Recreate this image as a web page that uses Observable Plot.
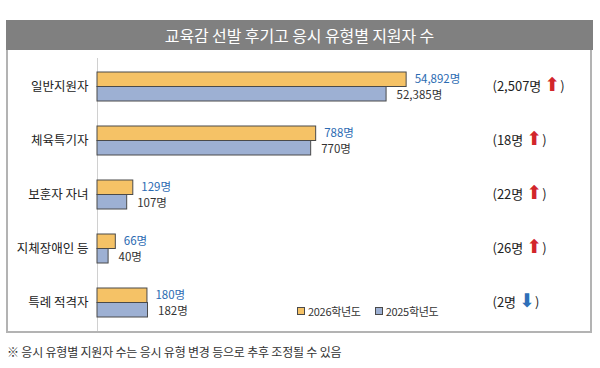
<!DOCTYPE html>
<html>
<head>
<meta charset="utf-8">
<script src="https://cdn.jsdelivr.net/npm/d3@7"></script>
<script src="https://cdn.jsdelivr.net/npm/@observablehq/plot@0.6"></script>
<style>
  html, body { margin: 0; padding: 0; background: #fff; }
  #wrap { position: relative; width: 600px; height: 368px; overflow: hidden;
          font-family: "Noto Sans CJK KR", "Noto Sans", sans-serif; }
  #title { position: absolute; left: 6px; top: 20px; width: 587px; height: 30px;
           background: #808080; color: #fff; font-size: 16px; line-height: 30px;
           text-align: center; letter-spacing: -0.1px; }
  #panel { position: absolute; left: 6px; top: 50px; width: 582px; height: 281px;
           border: 2px solid #b3b3b3; border-top: none; pointer-events: none; }
  #chart { position: absolute; left: 0; top: 50px; }
  #legend { position: absolute; top: 303px; left: 297px; font-size: 11px; color: #333;
            display: flex; gap: 14px; letter-spacing: -0.3px; }
  #legend .item { display: flex; align-items: center; gap: 3px; }
  #legend .sw { width: 6px; height: 6px; border: 1px solid #4a4a4a; }
  #note { position: absolute; left: 7px; top: 343px; font-size: 12px; color: #333;
          letter-spacing: -0.2px; }
</style>
</head>
<body>
<div id="wrap">
  <div id="title"></div>
  <div id="chart"></div>
  <div id="panel"></div>
  <div id="legend"></div>
  <div id="note"></div>
</div>
<script>
const titleText = "교육감 선발 후기고 응시 유형별 지원자 수";
const noteText = "※ 응시 유형별 지원자 수는 응시 유형 변경 등으로 추후 조정될 수 있음";
const categories = ["일반지원자", "체육특기자", "보훈자 자녀", "지체장애인 등", "특례 적격자"];
const values2026 = [54892, 788, 129, 66, 180];
const values2025 = [52385, 770, 107, 40, 182];
const changeLabels = ["2,507명", "18명", "22명", "26명", "2명"];
const changeDirs = ["up", "up", "up", "up", "down"];
const seriesNames = ["2026학년도", "2025학년도"];
const seriesColors = ["#f5c266", "#9db0d3"];

const rows = categories.map((c, i) => ({
  category: c, v2026: values2026[i], v2025: values2025[i],
  change: changeLabels[i], dir: changeDirs[i]
}));
const fmt = d3.format(",");

document.getElementById("title").textContent = titleText;
document.getElementById("note").textContent = noteText;
const legend = d3.select("#legend");
seriesNames.forEach((s, i) => {
  const it = legend.append("div").attr("class", "item");
  it.append("div").attr("class", "sw").style("background", seriesColors[i]);
  it.append("span").text(s);
});

const chart = Plot.plot({
  width: 600,
  height: 283,
  marginTop: 8,
  marginBottom: 2,
  marginLeft: 97,
  marginRight: 108,
  style: { fontFamily: "'Noto Sans CJK KR', sans-serif", fontSize: "12.5px", color: "#222", background: "transparent", overflow: "visible" },
  x: { type: "linear", domain: [0, 800, 50000, 55000], range: [97, 319, 367, 407], axis: null },
  y: { domain: categories, paddingInner: 0.47, paddingOuter: 0.22, align: 0.5, label: null, tickSize: 0, tickPadding: 9 },
  marks: [
    Plot.ruleX([0], { stroke: "#d0d0d0" }),
    Plot.barX(rows, { x: "v2026", y: "category", fill: seriesColors[0], stroke: "#4a4a4a", strokeWidth: 1, insetBottom: 14.5 }),
    Plot.barX(rows, { x: "v2025", y: "category", fill: seriesColors[1], stroke: "#4a4a4a", strokeWidth: 1, insetTop: 14.5 }),
    Plot.text(rows, { x: "v2026", y: "category", text: d => fmt(d.v2026) + "명", dx: 8, dy: -8, textAnchor: "start", fill: "#2c6bb2", fontSize: 11.5 }),
    Plot.text(rows, { x: "v2025", y: "category", text: d => fmt(d.v2025) + "명", dx: 10, dy: 8, textAnchor: "start", fill: "#333", fontSize: 11.5 }),
    Plot.text(rows, { y: "category", text: d => "(" + d.change, frameAnchor: "right", textAnchor: "start", fill: "#222", fontSize: 13 })
  ]
});
document.getElementById("chart").appendChild(chart);

let k = 0;
d3.select(chart).selectAll("text").each(function () {
  const txt = this.textContent;
  if (!txt.startsWith("(")) return;
  const row = rows.find(r => "(" + r.change === txt) || rows[k];
  k++;
  const t = d3.select(this);
  const up = row.dir === "up";
  t.append("tspan").attr("fill", up ? "#d2262b" : "#2e6fb8").attr("font-family", "DejaVu Sans")
    .attr("font-size", 19).attr("dx", 3).text(up ? "⬆" : "⬇");
  t.append("tspan").attr("fill", "#222").attr("dx", 0).text(")");
});
</script>
</body>
</html>
